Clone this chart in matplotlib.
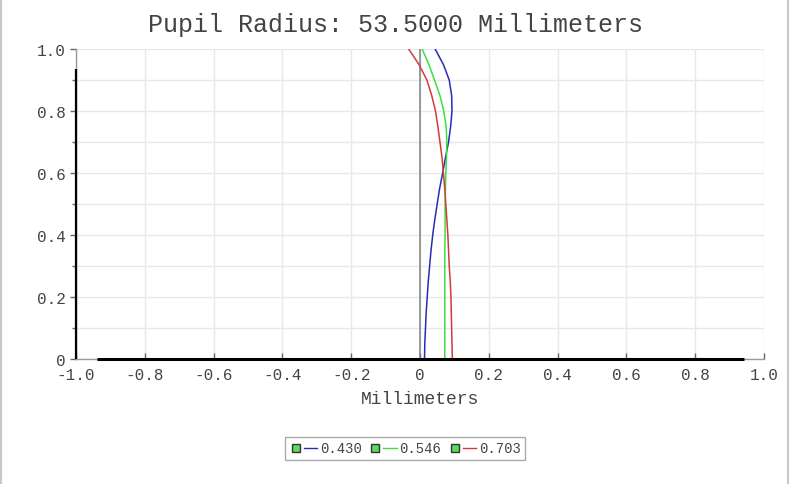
import matplotlib
matplotlib.use("Agg")
import matplotlib.pyplot as plt
import numpy as np
from matplotlib.lines import Line2D
from matplotlib.legend_handler import HandlerTuple
from matplotlib.ticker import MultipleLocator, FuncFormatter

# relative pupil height, 0 -> 1 in steps of 0.05
pupil = [0.00, 0.05, 0.10, 0.15, 0.20, 0.25, 0.30, 0.35, 0.40, 0.45, 0.50,
         0.55, 0.60, 0.65, 0.70, 0.75, 0.80, 0.85, 0.90, 0.95, 1.00]

# longitudinal aberration (mm) per wavelength
wave_430 = [0.013, 0.014, 0.016, 0.018, 0.021, 0.024, 0.028, 0.032, 0.037, 0.043, 0.050,
            0.057, 0.066, 0.074, 0.083, 0.089, 0.093, 0.092, 0.085, 0.068, 0.044]
wave_546 = [0.072, 0.072, 0.072, 0.072, 0.072, 0.072, 0.072, 0.072, 0.073, 0.073, 0.073,
            0.074, 0.075, 0.077, 0.078, 0.076, 0.069, 0.058, 0.042, 0.026, 0.006]
wave_703 = [0.094, 0.093, 0.092, 0.091, 0.090, 0.088, 0.085, 0.083, 0.081, 0.078, 0.075,
            0.072, 0.068, 0.064, 0.058, 0.052, 0.045, 0.034, 0.020, -0.003, -0.033]

labels = ["0.430", "0.546", "0.703"]
colors = ["#2a2ab8", "#3ee03e", "#d43a3a"]

MONO = "Liberation Mono"
TXT = "#444444"

fig = plt.figure(figsize=(7.9, 4.85), dpi=100)
ax = fig.add_axes((76 / 790, 1 - 360 / 485, 688 / 790, 310 / 485))

# thin gray frame on the left and right edges of the picture
fig.add_artist(Line2D([0.001, 0.001], [0, 1], color="#c8c8c8", lw=1.5, transform=fig.transFigure))
fig.add_artist(Line2D([0.997, 0.997], [0, 1], color="#c8c8c8", lw=1.5, transform=fig.transFigure))

ax.set_xlim(-1.0, 1.0)
ax.set_ylim(0, 1.0)

# grid
ax.xaxis.set_major_locator(MultipleLocator(0.2))
ax.yaxis.set_major_locator(MultipleLocator(0.2))
ax.yaxis.set_minor_locator(MultipleLocator(0.1))
ax.grid(True, which="major", color="#e8e8e8", lw=1)
ax.grid(True, which="minor", axis="y", color="#e8e8e8", lw=1)
ax.set_axisbelow(True)

# zero line
ax.axvline(0, color="#808080", lw=1.1, zorder=1)

handles = []
for ys, c, lab in zip([wave_430, wave_546, wave_703], colors, labels):
    ax.plot(ys, pupil, color=c, lw=1.1, zorder=3)
    box = Line2D([], [], marker="s", ls="none", ms=6, mfc="#5ed85e", mec="#333333", mew=1)
    ln = Line2D([], [], color=c, lw=1)
    handles.append((box, ln))

# spines: thin gray, with thick black middle part
for s in ["top", "right"]:
    ax.spines[s].set_visible(False)
for s in ["left", "bottom"]:
    ax.spines[s].set_color("#999999")
    ax.spines[s].set_linewidth(1)
ax.plot([-0.94, 0.943], [0, 0], color="black", lw=2.2, clip_on=False, zorder=4,
        solid_capstyle="butt")
ax.plot([-1.0, -1.0], [0, 0.935], color="black", lw=1.6, clip_on=False, zorder=4,
        solid_capstyle="butt")

def fmt(v, pos):
    if abs(v) < 1e-9:
        return "0"
    return f"{v:.1f}"

ax.xaxis.set_major_formatter(FuncFormatter(fmt))
ax.yaxis.set_major_formatter(FuncFormatter(fmt))
ax.tick_params(axis="both", which="both", colors="#666666", labelcolor=TXT,
               labelsize=11.5, length=4, width=1)
ax.tick_params(axis="x", direction="in", pad=6)
ax.tick_params(axis="y", which="minor", length=3)
for t in ax.get_xticklabels() + ax.get_yticklabels():
    t.set_fontfamily(MONO)

fig.text(0.5, 1 - 25 / 485, "Pupil Radius: 53.5000 Millimeters", ha="center", va="center",
         fontsize=18, family=MONO, color=TXT)
fig.text(420 / 790, 1 - 400 / 485, "Millimeters", ha="center", va="center",
         fontsize=13, family=MONO, color=TXT)

leg = fig.legend(handles, labels, loc="center", bbox_to_anchor=(405 / 790, 1 - 449.5 / 485),
                 ncol=3, handler_map={tuple: HandlerTuple(ndivide=None, pad=0.1)},
                 prop={"family": MONO, "size": 10}, fancybox=False, edgecolor="#aaaaaa",
                 handlelength=2.0, handletextpad=0.2, columnspacing=0.5,
                 borderpad=0.35, framealpha=1)
leg.get_frame().set_linewidth(1)
for t in leg.get_texts():
    t.set_color(TXT)

fig.savefig("out.png", dpi=100)
